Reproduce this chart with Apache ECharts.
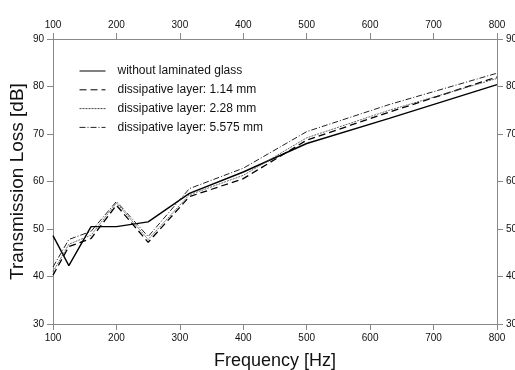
<!DOCTYPE html>
<html><head><meta charset="utf-8">
<script src="https://cdn.jsdelivr.net/npm/echarts@6/dist/echarts.min.js"></script>
<style>html,body{margin:0;padding:0;background:#fff}#c{width:515px;height:370px}</style>
</head><body><div id="c"></div>
<script>
const freqs = [100, 125, 160, 200, 250, 315, 400, 500, 630, 800];
const seriesNames = ["without laminated glass", "dissipative layer: 1.14 mm", "dissipative layer: 2.28 mm", "dissipative layer: 5.575 mm"];
const tlNoLam = [48.6, 42.3, 50.5, 50.5, 51.5, 57.5, 62.0, 68.0, 73.3, 80.4];
const tl114 = [40.3, 46.3, 48.0, 55.0, 47.2, 56.8, 60.6, 68.7, 74.6, 82.0];
const tl228 = [41.0, 46.8, 48.7, 55.5, 47.8, 57.2, 61.3, 69.2, 75.0, 81.7];
const tl5575 = [42.0, 47.8, 49.5, 55.8, 48.4, 58.5, 62.8, 70.5, 76.2, 82.8];
const xTicks = [100, 200, 300, 400, 500, 600, 700, 800];
const yTicks = [30, 40, 50, 60, 70, 80, 90];

const pair = v => freqs.map((f, i) => [f, v[i]]);
const styles = [
  {width: 1.4, type: 'solid', color: '#000'},
  {width: 1.3, type: [7, 4], color: '#000'},
  {width: 0.8, type: [2, 1], color: '#444'},
  {width: 1.0, type: [6, 2, 1, 2], color: '#222'}
];
const vals = [tlNoLam, tl114, tl228, tl5575];
const font = 'Liberation Sans, Arial, sans-serif';
const axCol = '#888';
const lbl = {color: '#111', fontSize: 10, fontFamily: font, margin: 9};
function xAx(pos) {
  return {type: 'value', position: pos, min: xTicks[0], max: xTicks[xTicks.length-1], interval: 100,
    axisLine: {show: true, lineStyle: {color: axCol, width: 1}},
    axisTick: {show: true, length: 6, inside: false, lineStyle: {color: axCol}},
    axisLabel: lbl, splitLine: {show: false},
    name: pos === 'bottom' ? 'Frequency [Hz]' : '', nameLocation: 'middle', nameGap: 28,
    nameMoveOverlap: false,
    nameTextStyle: {fontSize: 18, fontFamily: font, color: '#111'}};
}
function yAx(pos) {
  return {type: 'value', position: pos, min: yTicks[0], max: yTicks[yTicks.length-1], interval: 10,
    axisLine: {show: true, lineStyle: {color: axCol, width: 1}},
    axisTick: {show: true, length: 6, inside: false, lineStyle: {color: axCol}},
    axisLabel: lbl, splitLine: {show: false},
    name: pos === 'left' ? 'Transmission Loss [dB]' : '', nameLocation: 'middle', nameGap: 26,
    nameMoveOverlap: false,
    nameTextStyle: {fontSize: 19, fontFamily: font, color: '#111'}};
}
const chart = echarts.init(document.getElementById('c'), null, {renderer: 'canvas'});
chart.setOption({
  animation: false,
  backgroundColor: '#fff',
  grid: {left: 53, right: 18, top: 39, bottom: 46, containLabel: false, outerBoundsMode: 'none'},
  xAxis: [xAx('bottom'), xAx('top')],
  yAxis: [yAx('left'), yAx('right')],
  legend: {
    orient: 'vertical', left: 74, top: 60, itemWidth: 26, itemHeight: 12, itemGap: 6.8,
    itemStyle: {opacity: 0, borderWidth: 0},
    lineStyle: {width: 1},
    textStyle: {fontSize: 12, fontFamily: font, color: '#111', padding: [0, 0, 0, 7]},
    data: seriesNames
  },
  series: vals.map((v, i) => ({
    name: seriesNames[i], type: 'line', xAxisIndex: 0, yAxisIndex: 0,
    data: pair(v), symbol: 'none', showSymbol: false,
    lineStyle: styles[i], itemStyle: {color: styles[i].color}
  }))
});
</script></body></html>
